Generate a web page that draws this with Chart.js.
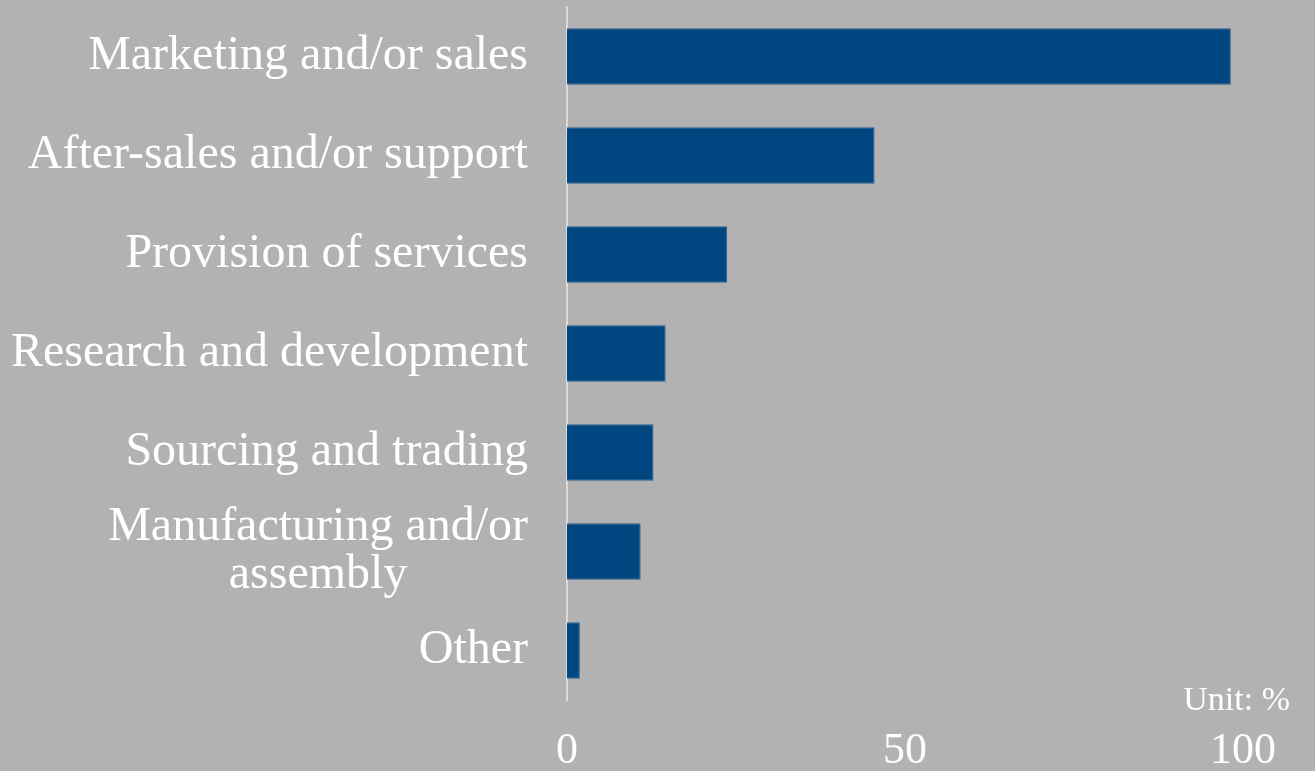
<!DOCTYPE html>
<html>
<head>
<meta charset="utf-8">
<script src="https://cdn.jsdelivr.net/npm/chart.js@4/dist/chart.umd.min.js"></script>
<style>
  html, body { margin: 0; padding: 0; background: #b2b2b2; }
  canvas { display: block; }
</style>
</head>
<body>
<canvas id="grafica" width="1315" height="771"></canvas>
<script>
// Actividades de las filiales (porcentaje)
const categorias = [
  'Marketing and/or sales',
  'After-sales and/or support',
  'Provision of services',
  'Research and development',
  'Sourcing and trading',
  ['Manufacturing and/or', 'assembly'],
  'Other'
];
const porcentajes = [98.2, 45.5, 23.7, 14.6, 12.8, 10.9, 1.9];
const ticksX = [0, 50, 100];
const unidad = 'Unit: %';

const FUENTE = "'Liberation Serif', 'DejaVu Serif', serif";

// etiquetas de categoría: bloque alineado a la derecha, líneas centradas entre sí
const etiquetasPlugin = {
  id: 'etiquetas',
  afterDraw(chart) {
    const { ctx, chartArea } = chart;
    const y = chart.scales.y;
    const derecha = chartArea.left - 39;
    const alto = 48;
    ctx.save();
    ctx.font = '48px ' + FUENTE;
    ctx.fillStyle = '#ffffff';
    ctx.textAlign = 'center';
    ctx.textBaseline = 'middle';
    categorias.forEach((lab, i) => {
      const lineas = Array.isArray(lab) ? lab : [lab];
      const ancho = Math.max(...lineas.map(l => ctx.measureText(l).width));
      const cx = derecha - ancho / 2;
      const cy = y.getPixelForTick(i);
      lineas.forEach((l, j) => {
        ctx.fillText(l, cx, cy + (j - (lineas.length - 1) / 2) * alto);
      });
    });
    ctx.restore();
  }
};

// texto de unidad abajo a la derecha
const unidadPlugin = {
  id: 'unidad',
  afterDraw(chart) {
    const { ctx, chartArea } = chart;
    ctx.save();
    ctx.font = '34px ' + FUENTE;
    ctx.fillStyle = '#ffffff';
    ctx.textAlign = 'right';
    ctx.textBaseline = 'alphabetic';
    ctx.fillText(unidad, chartArea.right + 47, chartArea.bottom + 10);
    ctx.restore();
  }
};

const ctx = document.getElementById('grafica').getContext('2d');
new Chart(ctx, {
  type: 'bar',
  data: {
    labels: categorias,
    datasets: [{
      data: porcentajes,
      backgroundColor: '#004680',
      borderColor: '#2f5f8f',
      borderWidth: 1,
      barPercentage: 0.57,
      categoryPercentage: 1
    }]
  },
  options: {
    indexAxis: 'y',
    responsive: false,
    animation: false,
    layout: { padding: { top: 7, right: 72, left: 0, bottom: 0 } },
    plugins: {
      legend: { display: false },
      tooltip: { enabled: false }
    },
    scales: {
      x: {
        min: 0,
        max: 100,
        afterBuildTicks(scale) {
          scale.ticks = ticksX.map(v => ({ value: v }));
        },
        afterFit(scale) { scale.height = 71; },
        grid: { display: false, drawTicks: false },
        border: { display: false },
        ticks: {
          color: '#ffffff',
          font: { family: FUENTE, size: 44, lineHeight: 1.0 },
          padding: 29,
          maxRotation: 0
        }
      },
      y: {
        afterFit(scale) {
          // ancho fijo y sin relleno extra arriba/abajo
          scale.width = 567;
          scale.paddingTop = 0;
          scale.paddingBottom = 0;
        },
        grid: { display: false, drawTicks: false },
        border: { display: true, color: '#dadada', width: 2 },
        ticks: { display: false, autoSkip: false }
      }
    }
  },
  plugins: [etiquetasPlugin, unidadPlugin]
});
</script>
</body>
</html>
